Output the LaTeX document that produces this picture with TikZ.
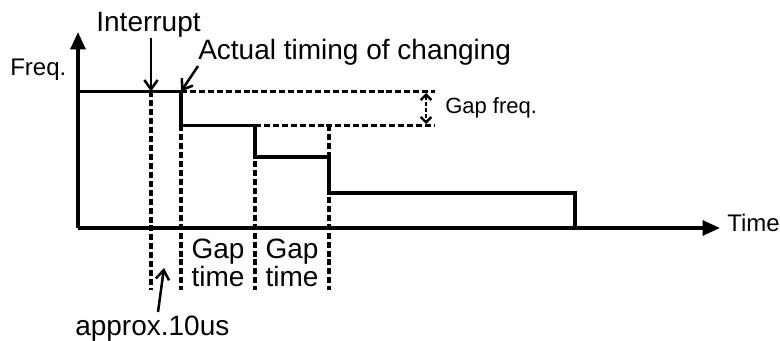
\documentclass[tikz,border=0pt]{standalone}
\usepackage{fontspec}
\setmainfont{Liberation Sans}
\usetikzlibrary{arrows.meta}
\newcommand{\bigtxt}{\fontsize{21}{21}\selectfont}
\newcommand{\smalltxt}{\fontsize{16.5}{18}\selectfont}
\begin{document}
\begin{tikzpicture}[x=0.75pt,y=-0.75pt,
  axis/.style={line width=2.8pt,-{Triangle[length=13pt,width=11pt]}},
  sig/.style={line width=2.8pt},
  guide/.style={line width=2.3pt,dash pattern=on 4.5pt off 2.2pt},
  note/.style={line width=1.9pt,-{Straight Barb[length=7pt,width=10pt]}},
  bigl/.style={inner sep=0pt,font=\bigtxt},
  smalll/.style={inner sep=0pt,font=\smalltxt}]
\useasboundingbox (0,0) rectangle (780,341);
% corners of the frequency steps
\coordinate (o) at (78,228);
\coordinate (s0) at (78,91.5);
\coordinate (c1) at (181,91.5);
\coordinate (c2) at (255,125.5);
\coordinate (c3) at (329,157);
\coordinate (c4) at (575,193);
\coordinate (irq) at (151,91.5);
\coordinate (bot) at (0,290);
% axes
\draw[axis] (o) -- (78,32);
\draw[axis] (o) -- (720,228);
\node[smalll,font=\fontsize{18}{18}\selectfont,anchor=base west] (freq) at (10,76) {Freq.};
\node[smalll,font=\fontsize{18}{18}\selectfont,anchor=base west] (time) at (727,232) {Time};
% frequency steps
\draw[sig] (s0) -- (c1) -- (c1 |- c2) -- (c2) -- (c2 |- c3) -- (c3) -- (c3 |- c4) -- (c4) -- (c4 |- o);
% guide lines
\draw[guide] (c1) -- (435,91.5);
\draw[guide] (c2) -- (435,125.5);
\draw[guide] (irq) -- (irq |- bot);
\foreach \p in {c1,c2,c3}
  {\draw[guide] (\p |- c2) -- (\p |- bot);}
\draw[line width=1.8pt,dash pattern=on 3pt off 1.5pt,{Straight Barb[length=4pt,width=8pt]}-{Straight Barb[length=4pt,width=8pt]}] (426,93) -- (426,124);
\node[smalll,anchor=base west] (gapf) at (445,114) {Gap freq.};
% labels with arrows
\node[bigl,anchor=base] (intr) at (148.5,32) {Interrupt};
\draw[note] (intr.south -| irq) -- (irq);
\node[bigl,anchor=base west] (act) at (198,60) {Actual timing of changing};
\draw[note] (act.south west) -- (c1);
\node[bigl,anchor=north,align=center] (gt1) at (218,238.5) {Gap\\time};
\node[bigl,anchor=north,align=center] (gt2) at (292,238.5) {Gap\\time};
\node[bigl,anchor=base west] (apx) at (75,335) {approx.10us};
\coordinate (tail) at (158,312);
\coordinate (head) at (164,268);
\draw[note] (tail) -- (head);
\end{tikzpicture}
\end{document}
